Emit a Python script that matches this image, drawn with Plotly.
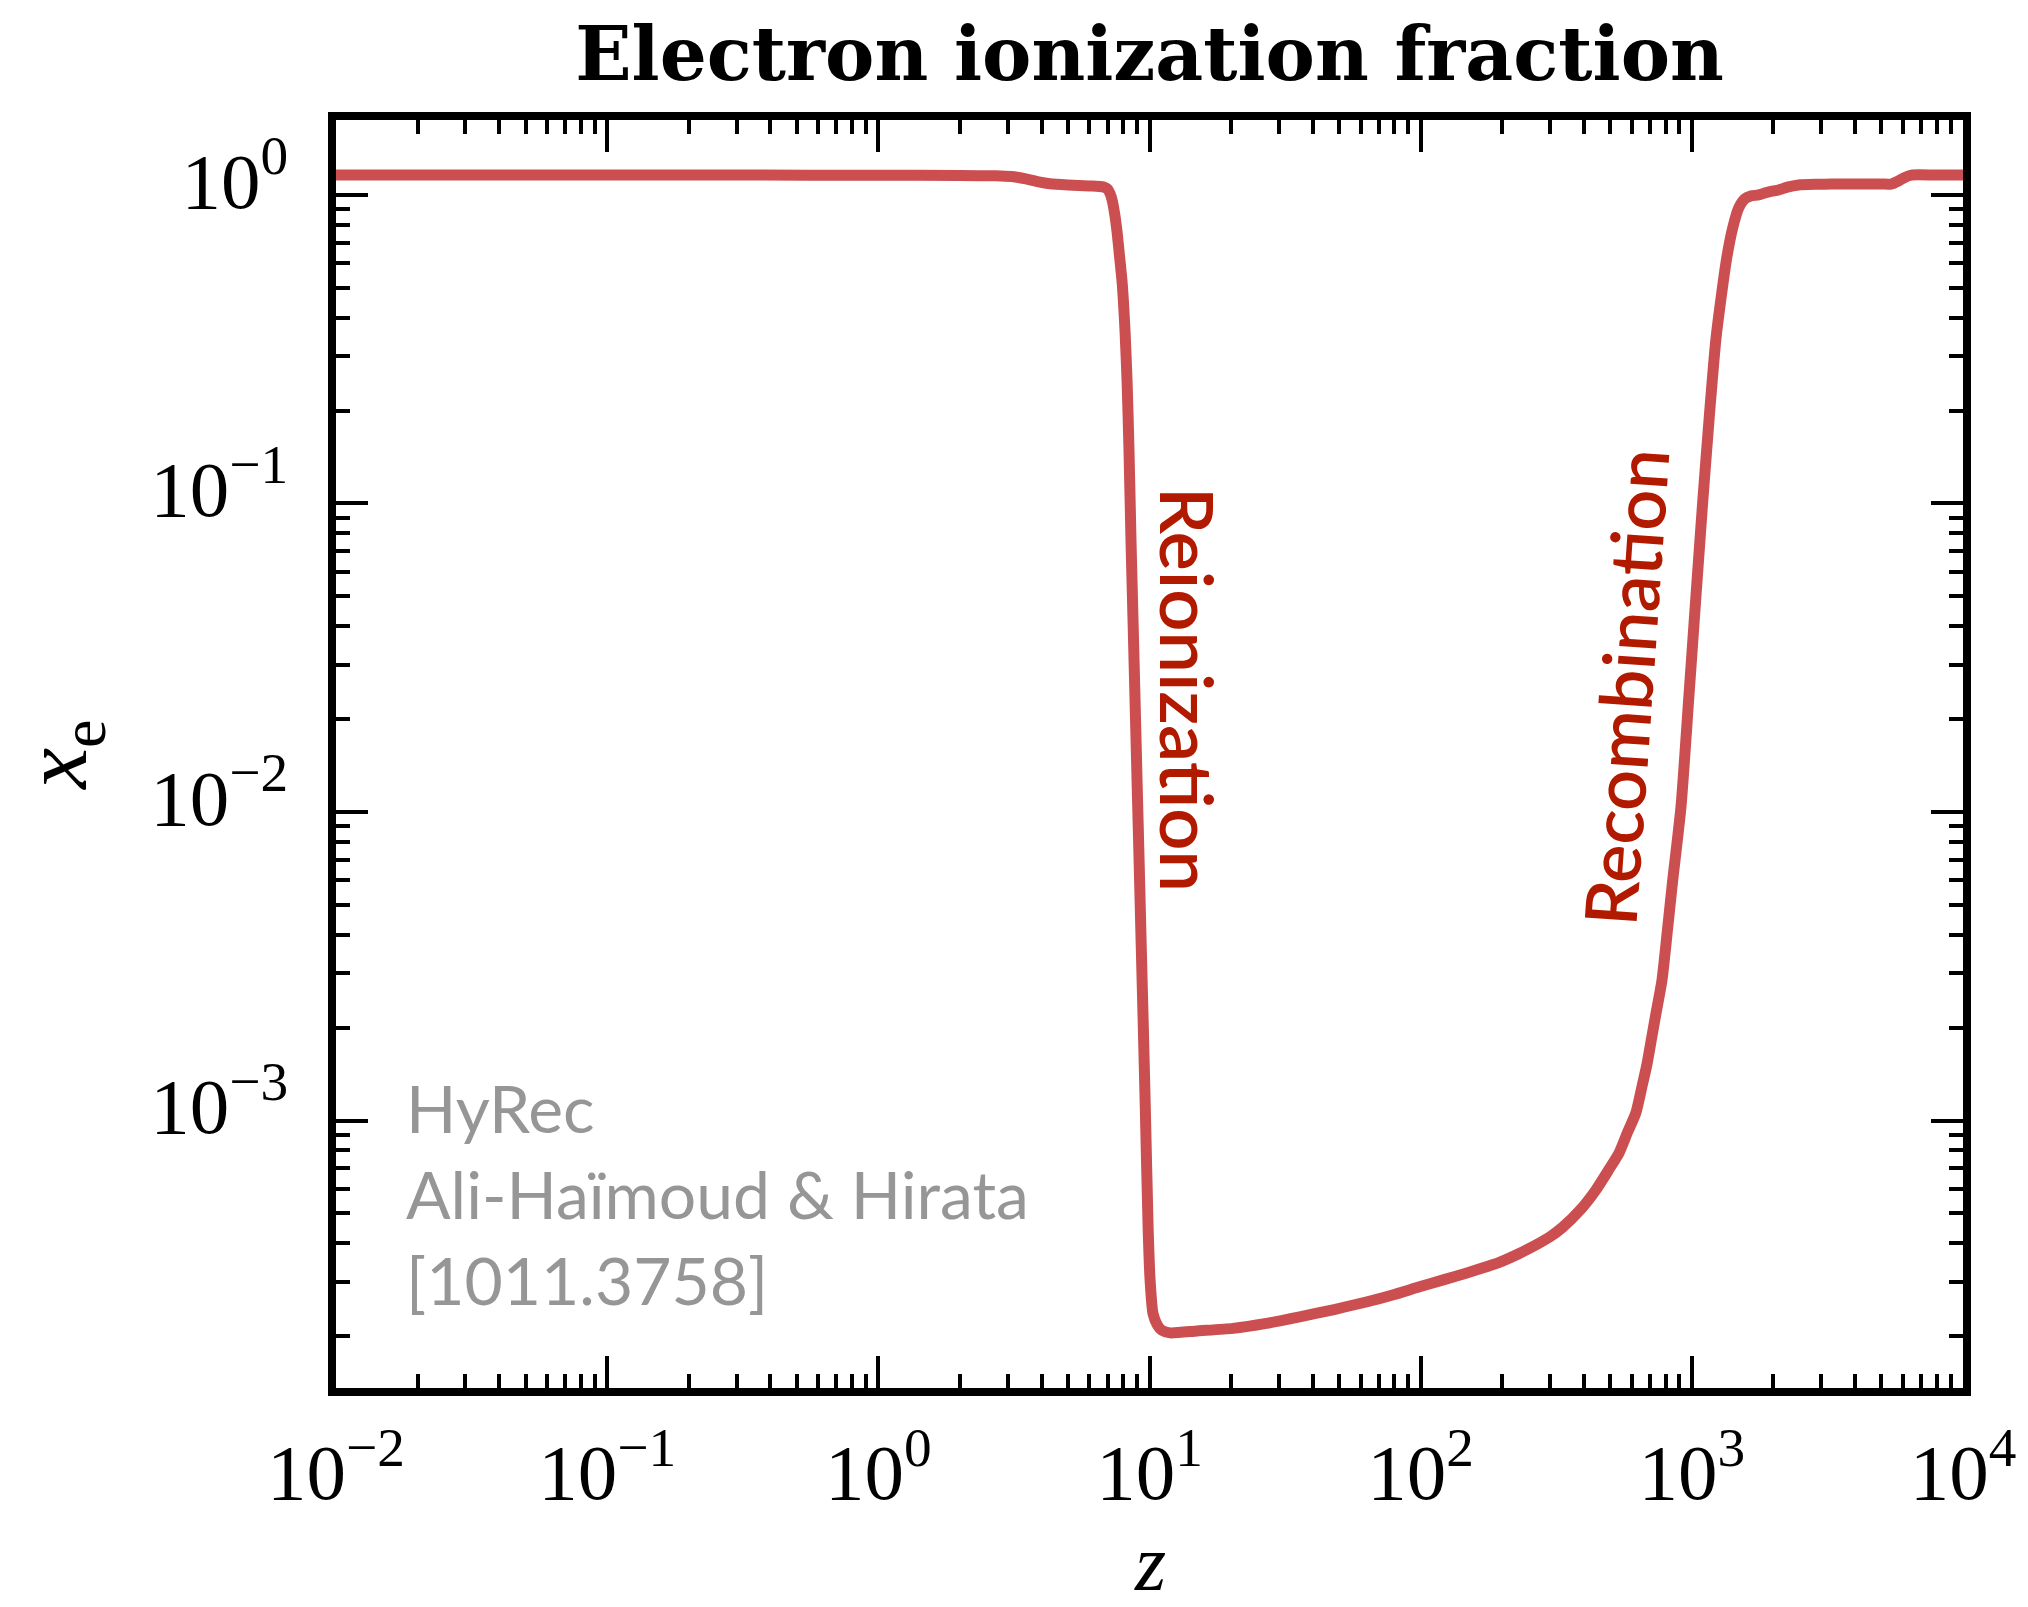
import plotly.graph_objects as go

# ---- data ----
redshift = [0.01, 0.03, 0.1, 0.3, 1.0, 2.0, 2.7, 3.1, 3.5, 3.9, 4.3, 5.0, 6.0, 6.75,
            7.0, 7.15, 7.28, 7.45, 7.6, 7.75, 7.93, 8.13, 8.27, 8.4, 8.55, 8.7, 8.85,
            9.0, 9.16, 9.32, 9.48, 9.65, 9.89, 10.05, 10.3, 10.7, 11.1, 11.9, 15, 20.3,
            27, 35.8, 48, 63, 80, 99, 122, 147, 170, 195, 230, 270, 300, 333, 390, 443,
            490, 539, 580, 622, 655, 684, 710, 738, 776, 812, 850, 912, 975, 1035, 1098,
            1165, 1226, 1279, 1345, 1415, 1489, 1567, 1648, 1764, 1870, 1960, 2089, 2250,
            2475, 2900, 3275, 4000, 5000, 5440, 5780, 6100, 6450, 8000, 10000]
x_e = [1.160, 1.160, 1.160, 1.160, 1.159, 1.157, 1.154, 1.147, 1.128, 1.103, 1.088,
       1.078, 1.070, 1.062, 1.045, 1.012, 0.963, 0.862, 0.753, 0.636, 0.518, 0.357,
       0.246, 0.150, 0.0745, 0.0410, 0.0226, 0.0125, 6.8e-3, 3.7e-3, 2.07e-3, 1.1e-3,
       4.4e-4, 3.04e-4, 2.37e-4, 2.17e-4, 2.09e-4, 2.05e-4, 2.08e-4, 2.12e-4, 2.20e-4,
       2.31e-4, 2.44e-4, 2.58e-4, 2.73e-4, 2.89e-4, 3.05e-4, 3.2e-4, 3.33e-4, 3.47e-4,
       3.70e-4, 3.98e-4, 4.20e-4, 4.50e-4, 5.16e-4, 5.96e-4, 6.85e-4, 7.85e-4, 9.18e-4,
       1.06e-3, 1.29e-3, 1.53e-3, 1.84e-3, 2.23e-3, 2.85e-3, 4.1e-3, 6.0e-3, 0.0104,
       0.0236, 0.0497, 0.1026, 0.201, 0.339, 0.457, 0.625, 0.782, 0.908, 0.971, 0.993,
       1.0, 1.017, 1.027, 1.038, 1.060, 1.077, 1.083, 1.085, 1.085, 1.085, 1.085, 1.11,
       1.14, 1.16, 1.160, 1.160]

x_tick_vals = [1e-2, 1e-1, 1e0, 1e1, 1e2, 1e3, 1e4]
x_tick_text = ["10<sup>−2</sup>", "10<sup>−1</sup>", "10<sup>0</sup>", "10<sup>1</sup>",
               "10<sup>2</sup>", "10<sup>3</sup>", "10<sup>4</sup>"]
y_tick_vals = [1e-3, 1e-2, 1e-1, 1e0]
y_tick_text = ["10<sup>−3</sup>", "10<sup>−2</sup>", "10<sup>−1</sup>", "10<sup>0</sup>"]

title_text = "Electron ionization fraction"
x_title = "<i>z</i>"
y_title = "<i>x</i><sub>e</sub>"
label_reion = "Reionization"
label_recomb = "Recombination"
credit_lines = ["HyRec", "Ali-Haïmoud &amp; Hirata", "[1011.3758]"]

# minor tick positions (2..9 x each decade)
x_minor = [m * 10.0 ** e for e in range(-2, 4) for m in range(2, 10)]
y_minor = [m * 10.0 ** e for e in range(-4, 1) for m in range(2, 10)]

W, H = 2028, 1607
L, R, T, B = 336, 1963, 120, 1388

fig = go.Figure()
fig.add_trace(go.Scatter(x=redshift, y=x_e, mode="lines",
                         line=dict(color="#CB4F51", width=11, shape="spline",
                                   smoothing=0.6),
                         showlegend=False, hoverinfo="skip"))

tickfont = dict(family="Liberation Serif", size=79, color="black")
common = dict(showline=True, linewidth=8, linecolor="black", mirror="ticks",
              ticks="inside", ticklen=32, tickwidth=4, tickcolor="black",
              showgrid=False, zeroline=False, tickfont=tickfont, automargin=False)

fig.update_xaxes(type="log", range=[-2, 4], tickmode="array",
                 tickvals=x_tick_vals, ticktext=x_tick_text,
                 minor=dict(tickmode="array", tickvals=x_minor, ticks="inside",
                            ticklen=14, tickwidth=3.5, tickcolor="black", showgrid=False),
                 ticklabelstandoff=8,
                 **common)
fig.update_yaxes(type="log", range=[-3.867, 0.243], tickmode="array",
                 tickvals=y_tick_vals, ticktext=y_tick_text,
                 minor=dict(tickmode="array", tickvals=y_minor, ticks="inside",
                            ticklen=14, tickwidth=3.5, tickcolor="black", showgrid=False),
                 ticklabelstandoff=24, ticklabelshift=-15,
                 title=dict(text=y_title,
                            font=dict(family="Liberation Serif", size=92, color="black"),
                            standoff=36),
                 **common)

def px_to_paper_x(px):
    return (px - L) / (R - L)

def px_to_paper_y(py):
    return (B - py) / (B - T)

annotations = [
    dict(text=x_title, x=0.5, y=px_to_paper_y(1563),
         xref="paper", yref="paper", showarrow=False,
         xanchor="center", yanchor="middle",
         font=dict(family="Liberation Serif", size=80, color="black")),
    dict(text=label_reion, x=px_to_paper_x(1189), y=px_to_paper_y(689),
         xref="paper", yref="paper", showarrow=False, textangle=90,
         xanchor="center", yanchor="middle",
         font=dict(family="Lato", size=74, color="#B21A00", weight=600)),
    dict(text=label_recomb, x=px_to_paper_x(1625), y=px_to_paper_y(687),
         xref="paper", yref="paper", showarrow=False, textangle=-86,
         xanchor="center", yanchor="middle",
         font=dict(family="Lato", size=72, color="#B21A00", weight=600)),
    dict(text="<br>".join(credit_lines), x=px_to_paper_x(404), y=px_to_paper_y(1066),
         xref="paper", yref="paper", showarrow=False, align="left",
         xanchor="left", yanchor="top",
         font=dict(family="Lato", size=66, color="#969696")),
]

fig.update_layout(
    width=W, height=H,
    margin=dict(l=L, r=W - R, t=T, b=H - B, pad=0, autoexpand=False),
    paper_bgcolor="white", plot_bgcolor="white",
    title=dict(text="<b>" + title_text + "</b>", x=0.5, xref="paper",
               y=1 - 54 / H, yref="container", xanchor="center", yanchor="middle",
               font=dict(family="DejaVu Serif", size=74, color="black")),
    annotations=annotations,
)

fig.write_html("out.html")
